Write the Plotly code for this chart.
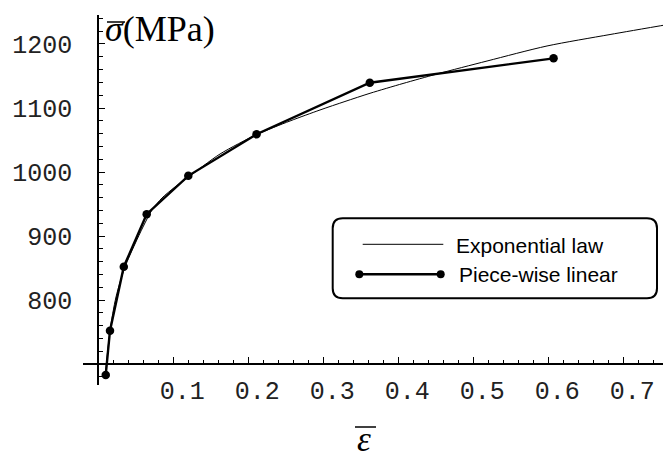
import plotly.graph_objects as go

# ---- data ----
strain_pw = [0.0099, 0.0156, 0.034, 0.0645, 0.120, 0.211, 0.362, 0.607]
stress_pw = [683, 752, 852, 934, 994, 1059, 1139.5, 1177.6]

strain_exp = [0.0089, 0.0156, 0.0236, 0.0356, 0.0489, 0.0596, 0.0716, 0.0849,
              0.1023, 0.1196, 0.1623, 0.2116, 0.2556, 0.2956, 0.3289, 0.3623,
              0.4063, 0.4516, 0.5183, 0.5983, 0.6823, 0.7636]
stress_exp = [678.1, 751.6, 804.7, 851.6, 887.5, 914.1, 940.6, 959.4,
              976.6, 991.4, 1028.1, 1058.6, 1079.7, 1096.9, 1110.2, 1123.0,
              1138.3, 1153.1, 1173.4, 1196.9, 1214.8, 1231.3]

x_tick_vals = [0.1, 0.2, 0.3, 0.4, 0.5, 0.6, 0.7]
x_tick_text = ["0.1", "0.2", "0.3", "0.4", "0.5", "0.6", "0.7"]
y_tick_vals = [800, 900, 1000, 1100, 1200]
y_tick_text = ["800", "900", "1000", "1100", "1200"]

series_names = ["Exponential law", "Piece-wise linear"]

# ---- layout geometry (page pixels; the html body adds an 8px margin) ----
PAGE_W, PAGE_H = 671, 458
OFF = 8
W, H = PAGE_W - OFF, PAGE_H - OFF
plot_left, plot_top, plot_right, plot_bottom = 83, 15, 671, 385
L = plot_left - OFF
T = plot_top - OFF
R = PAGE_W - plot_right
B = PAGE_H - plot_bottom
x_range = [-0.0204, 0.7636]
y_range = [667.2, 1245.3]
plot_w = plot_right - plot_left
plot_h = plot_bottom - plot_top


def pxx(x):
    return (x - plot_left) / plot_w


def pxy(y):
    return (plot_bottom - y) / plot_h


x_pos = (700 - y_range[0]) / (y_range[1] - y_range[0])   # x-axis crosses at sigma=700
y_pos = (0 - x_range[0]) / (x_range[1] - x_range[0])     # y-axis at eps=0

x_minor = [round(0.02 * i, 2) for i in range(1, 39)]
y_minor = [680 + 20 * i for i in range(0, 29)]

fig = go.Figure()
fig.add_trace(go.Scatter(x=strain_exp, y=stress_exp, mode="lines",
                         line=dict(color="black", width=1, shape="spline", smoothing=0.8),
                         name=series_names[0], showlegend=False))
fig.add_trace(go.Scatter(x=strain_pw, y=stress_pw, mode="lines+markers",
                         line=dict(color="black", width=2.4),
                         marker=dict(color="black", size=8.5),
                         name=series_names[1], showlegend=False))

tickfont = dict(family="Liberation Mono", size=25, color="#222222")

fig.update_layout(
    width=W, height=H,
    margin=dict(l=L, r=R, t=T, b=B, autoexpand=False),
    paper_bgcolor="white", plot_bgcolor="white",
    xaxis=dict(range=x_range, anchor="free", position=x_pos, automargin=False,
               showline=True, linewidth=2, linecolor="black",
               ticks="inside", ticklen=6, tickwidth=1.3, tickcolor="black",
               tickvals=x_tick_vals, ticktext=x_tick_text, tickfont=tickfont,
               ticklabelshift=9, ticklabelstandoff=4,
               showgrid=False, zeroline=False,
               minor=dict(tickvals=x_minor, ticks="inside", ticklen=3.5,
                          tickwidth=1, tickcolor="black", showgrid=False)),
    yaxis=dict(range=y_range, anchor="free", position=y_pos, automargin=False,
               showline=True, linewidth=2, linecolor="black",
               ticks="inside", ticklen=6, tickwidth=1.3, tickcolor="black",
               tickvals=y_tick_vals, ticktext=y_tick_text, tickfont=tickfont,
               ticklabelstandoff=20,
               showgrid=False, zeroline=False,
               minor=dict(tickvals=y_minor, ticks="inside", ticklen=3.5,
                          tickwidth=1, tickcolor="black", showgrid=False)),
    showlegend=False,
)

# axis titles (overbars drawn as short lines)
fig.add_annotation(xref="paper", yref="paper", x=pxx(103), y=pxy(29),
                   xanchor="left", yanchor="middle", showarrow=False,
                   text="<i>σ</i>(MPa)",
                   font=dict(family="Liberation Serif", size=36, color="black"))
fig.add_shape(type="line", xref="paper", yref="paper",
              x0=pxx(107), x1=pxx(125), y0=pxy(22), y1=pxy(22),
              line=dict(color="black", width=1.5), layer="above")
fig.add_annotation(xref="paper", yref="paper", x=pxx(364), y=pxy(439),
                   xanchor="center", yanchor="middle", showarrow=False,
                   text="<i>ε</i>",
                   font=dict(family="Liberation Serif", size=35, color="black"))
fig.add_shape(type="line", xref="paper", yref="paper",
              x0=pxx(355), x1=pxx(376), y0=pxy(427), y1=pxy(427),
              line=dict(color="black", width=1.5))

# legend box (rounded rectangle)
x0, y0, x1, y1, r = 332.7, 218.3, 657, 298.3, 10
rx, ry = r / plot_w, r / plot_h
X0, X1, Y0, Y1 = pxx(x0), pxx(x1), pxy(y0), pxy(y1)
path = (f"M {X0+rx},{Y0} L {X1-rx},{Y0} Q {X1},{Y0} {X1},{Y0-ry} "
        f"L {X1},{Y1+ry} Q {X1},{Y1} {X1-rx},{Y1} "
        f"L {X0+rx},{Y1} Q {X0},{Y1} {X0},{Y1+ry} "
        f"L {X0},{Y0-ry} Q {X0},{Y0} {X0+rx},{Y0} Z")
fig.add_shape(type="path", path=path, xref="paper", yref="paper",
              line=dict(color="black", width=2), fillcolor="white", layer="above")

fig.add_shape(type="line", xref="paper", yref="paper",
              x0=pxx(362.7), x1=pxx(443.3), y0=pxy(244.3), y1=pxy(244.3),
              line=dict(color="black", width=1), layer="above")
fig.add_shape(type="line", xref="paper", yref="paper",
              x0=pxx(359.3), x1=pxx(440.7), y0=pxy(274.3), y1=pxy(274.3),
              line=dict(color="black", width=2.4), layer="above")
for cx in (359.3, 440.7):
    fig.add_shape(type="circle", xref="paper", yref="paper",
                  x0=pxx(cx - 4), x1=pxx(cx + 4), y0=pxy(274.3 + 4), y1=pxy(274.3 - 4),
                  line=dict(color="black", width=0), fillcolor="black", layer="above")

fig.add_annotation(xref="paper", yref="paper", x=pxx(454), y=pxy(245),
                   xanchor="left", yanchor="middle", showarrow=False,
                   text=series_names[0],
                   font=dict(family="Liberation Sans", size=21, color="black"))
fig.add_annotation(xref="paper", yref="paper", x=pxx(456.5), y=pxy(274.5),
                   xanchor="left", yanchor="middle", showarrow=False,
                   text=series_names[1],
                   font=dict(family="Liberation Sans", size=21, color="black"))

fig.write_html("out.html")
